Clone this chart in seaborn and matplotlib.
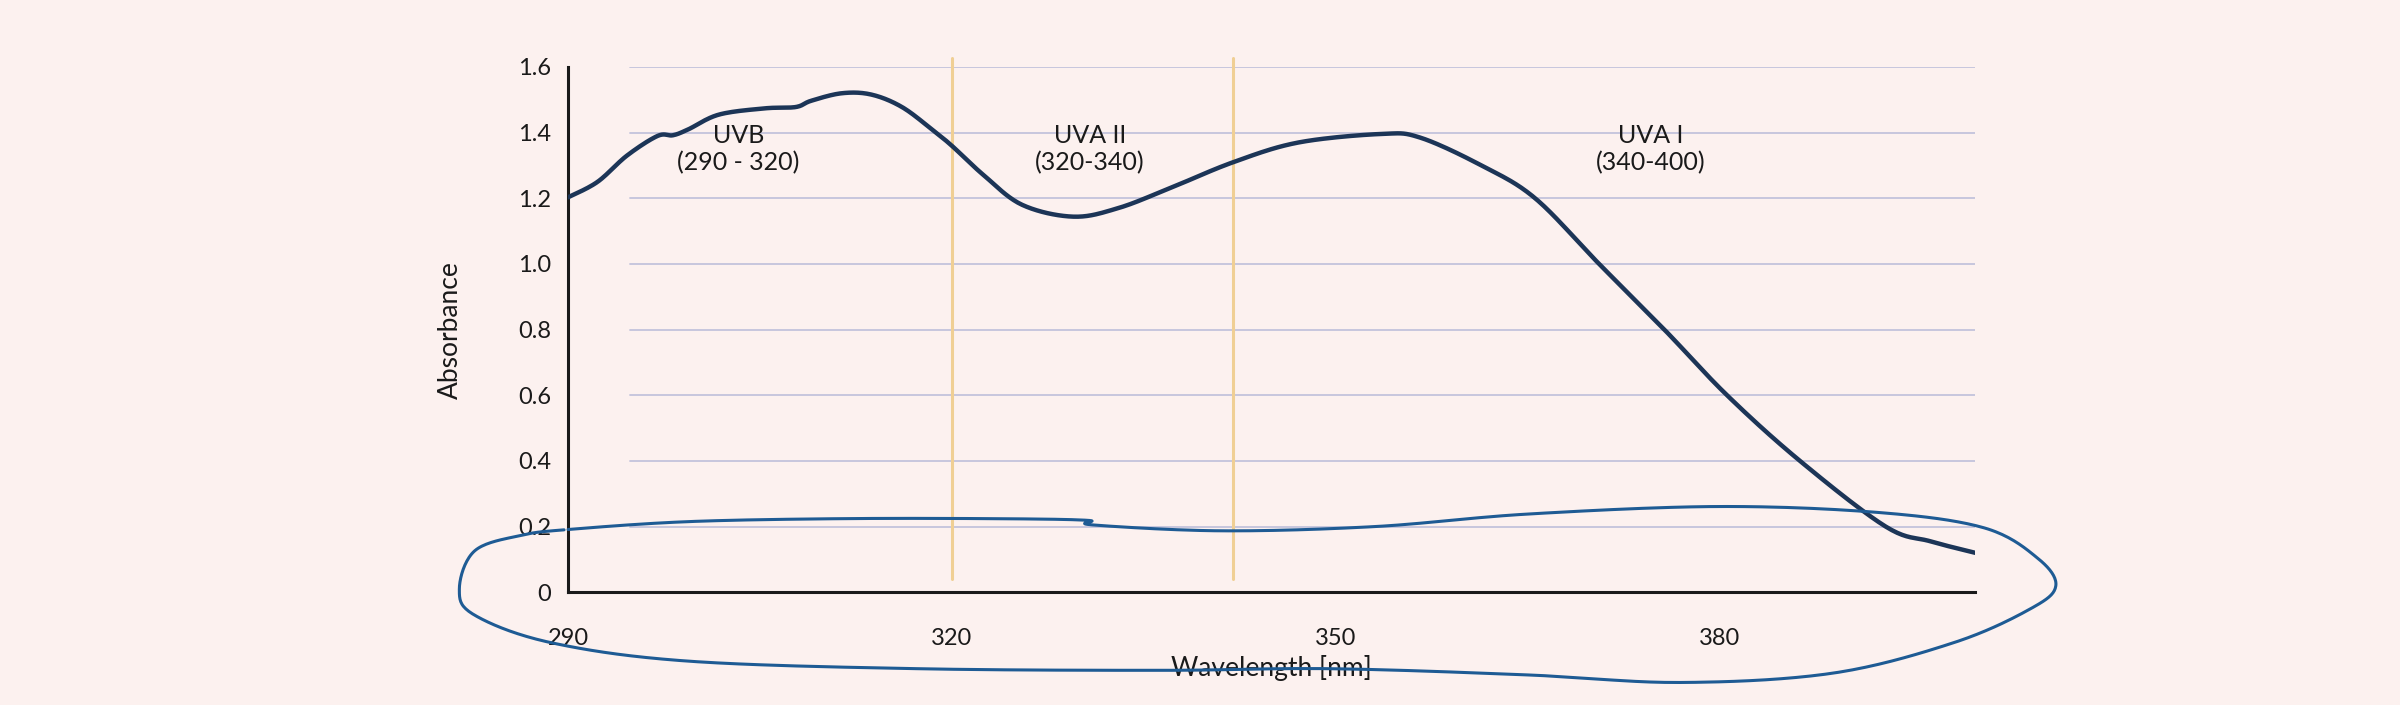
import numpy as np
import seaborn as sns
from matplotlib import pyplot as plt

# absorbance spectrum
wavelength = [290, 292.3, 294.6, 297, 298.2, 299.4, 301.8, 305.4, 307.8, 309, 311.4, 313.7, 316.1,
              318.5, 320, 322.5, 325.5, 329.5, 333, 337, 342, 347.1, 353.6, 356.6, 361.4, 365.6,
              370.6, 375.7, 380.6, 386.3, 393, 396.5, 400]
absorbance = [1.203, 1.25, 1.33, 1.39, 1.392, 1.41, 1.455, 1.474, 1.478, 1.497, 1.52, 1.516, 1.478,
              1.408, 1.36, 1.27, 1.18, 1.144, 1.17, 1.23, 1.31, 1.37, 1.396, 1.385, 1.3, 1.2,
              1.0, 0.8, 0.6, 0.4, 0.2, 0.155, 0.12]

# hand drawn loop around the bottom of the plot
loop_x = [290, 299.4, 311.3, 323.3, 330.6, 331.0, 341.1, 353.1, 365, 379.9, 392.4, 400.7, 404.9,
          406.3, 404.3, 398.3, 388.8, 376.9, 365, 349.5, 336.4, 317.3, 299.4, 288.7, 282.7,
          281.5, 282.7, 286.3]
loop_y = [0.191, 0.215, 0.224, 0.224, 0.219, 0.205, 0.187, 0.2, 0.238, 0.261, 0.243, 0.196, 0.103,
          0.019, -0.051, -0.154, -0.247, -0.275, -0.252, -0.233, -0.238, -0.233, -0.21, -0.154,
          -0.07, 0.009, 0.126, 0.173]

bands = [320, 342]
band_labels = ["UVB\n(290 - 320)", "UVA II\n(320-340)", "UVA I\n(340-400)"]
band_label_x = [303.3, 330.8, 374.6]
x_ticks = [290, 320, 350, 380, 400]
x_tick_labels = ["290", "320", "350", "380", ""]
y_ticks = [0, 0.2, 0.4, 0.6, 0.8, 1.0, 1.2, 1.4, 1.6]
y_tick_labels = ["0", "0.2", "0.4", "0.6", "0.8", "1.0", "1.2", "1.4", "1.6"]


def smooth(xs, ys, n=20, closed=False):
    # catmull-rom spline through the read points
    p = np.column_stack([xs, ys])
    if closed:
        p = np.vstack([p[-1], p, p[0], p[1]])
    else:
        p = np.vstack([p[0], p, p[-1]])
    t = np.linspace(0, 1, n, endpoint=False)[:, None]
    out = []
    for i in range(1, len(p) - 2):
        p0, p1, p2, p3 = p[i - 1], p[i], p[i + 1], p[i + 2]
        out.append(0.5 * (2 * p1 + (-p0 + p2) * t + (2 * p0 - 5 * p1 + 4 * p2 - p3) * t ** 2
                          + (-p0 + 3 * p1 - 3 * p2 + p3) * t ** 3))
    out = np.vstack(out)
    if not closed:
        out = np.vstack([out, p[-2]])
    return out[:, 0], out[:, 1]


bg = "#fcf1ef"
sns.set_theme(style="white", rc={"font.family": "Lato", "axes.facecolor": bg, "figure.facecolor": bg})
fig = plt.figure(figsize=(24, 7.05), dpi=100)
ax = fig.add_axes([0.2367, 0.160, 0.5863, 0.745])

for y in y_ticks[1:]:
    ax.axhline(y, xmin=0.044, xmax=1, color="#c3c3dc", lw=1.3, zorder=1)
for b in bands:
    ax.axvline(b, ymin=0.026, ymax=1.017, color="#f0cf94", lw=2.2, clip_on=False, zorder=2)

sx, sy = smooth(wavelength, absorbance)
sns.lineplot(x=sx, y=sy, sort=False, color="#1c3557", lw=3.2, ax=ax, zorder=4)

lx, ly = smooth(loop_x, loop_y, closed=True)
ax.plot(lx, ly, color="#1e5b94", lw=2.2, clip_on=False, zorder=5)

for xl, lab in zip(band_label_x, band_labels):
    ax.text(xl, 1.35, lab, ha="center", va="center", fontsize=18, color="#1a1a1a", linespacing=1.2)

ax.set_xlim(290, 400)
ax.set_ylim(0, 1.6)
ax.set_xticks(x_ticks, x_tick_labels)
ax.set_yticks(y_ticks, y_tick_labels)
ax.tick_params(axis="x", direction="out", length=18, width=2, labelsize=17, pad=8, colors="#1a1a1a")
ax.tick_params(axis="y", direction="in", length=10, width=2, labelsize=17, pad=12, colors="#1a1a1a")
for s in ["top", "right"]:
    ax.spines[s].set_visible(False)
for s in ["left", "bottom"]:
    ax.spines[s].set_color("#1a1a1a")
    ax.spines[s].set_linewidth(2.2)
ax.set_xlabel("Wavelength [nm]", fontsize=19, labelpad=4, color="#1a1a1a")
ax.set_ylabel("Absorbance", fontsize=19, labelpad=40, color="#1a1a1a")

fig.savefig("out.png", dpi=100, facecolor=bg)
